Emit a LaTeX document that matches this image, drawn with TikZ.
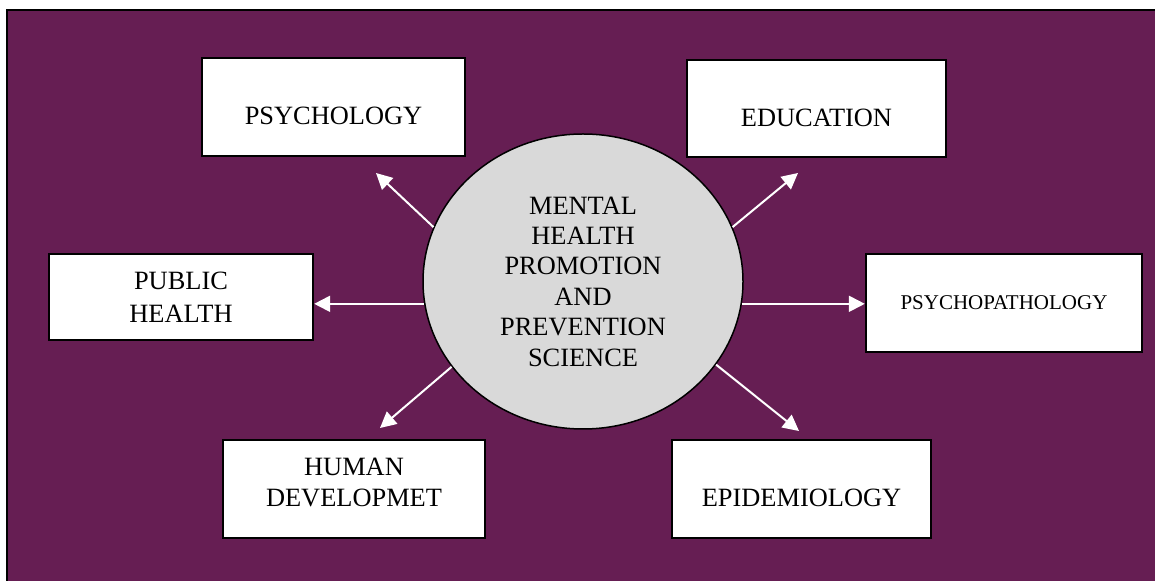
\documentclass[tikz,border=0pt]{standalone}
\usepackage{fontspec}
\setmainfont{Liberation Serif}
\usetikzlibrary{arrows.meta,shapes.geometric}

\definecolor{framepurple}{RGB}{102,30,83}
\definecolor{hubgray}{RGB}{217,217,217}

\begin{document}
\begin{tikzpicture}[x=0.5pt,y=-0.5pt,
    font=\fontsize{13.2}{15.2}\selectfont,
    box/.style={rectangle,draw=black,fill=white,line width=1.2pt,inner sep=0pt,align=center},
    link/.style={white,line width=1pt,-{Triangle[length=8pt,width=8pt]}}]

    \useasboundingbox (0,0) rectangle (1155,581);
    \clip (0,0) rectangle (1155,581);

    % Purple frame, cut off at the right and bottom
    \filldraw[fill=framepurple,draw=black,line width=1pt] (7,10) rectangle (1175,600);

    % Central circle
    \node[ellipse,draw=black,line width=0.75pt,fill=hubgray,minimum width=160pt,minimum height=147.5pt,
          inner sep=0pt,align=center] (hub) at (583,281.5)
          {MENTAL\\HEALTH\\PROMOTION\\AND\\PREVENTION\\SCIENCE};

    % Boxes round the circle
    \node[box,minimum width=131.5pt,minimum height=49pt,label={[yshift=-4.5pt]center:PSYCHOLOGY}] (psych) at (333.5,107) {};
    \node[box,minimum width=129.5pt,minimum height=48.5pt,label={[yshift=-4.5pt]center:EDUCATION}] (educ) at (816.5,108.5) {};
    \node[box,minimum width=132pt,minimum height=43pt,font=\fontsize{13.2}{16.4}\selectfont] (pubhealth) at (181,297) {PUBLIC\\HEALTH};
    \node[box,minimum width=138pt,minimum height=49pt,font=\fontsize{10.5}{12}\selectfont] (psychopath) at (1004,303) {PSYCHOPATHOLOGY};
    \node[box,minimum width=131pt,minimum height=49pt,label={[yshift=3.25pt,align=center]center:HUMAN\\DEVELOPMET}] (humandev) at (354,489) {};
    \node[box,minimum width=129.5pt,minimum height=49pt,label={[yshift=-4.5pt]center:EPIDEMIOLOGY}] (epidem) at (801.5,489) {};

    % Arrow tips that stop short of the boxes
    \coordinate (psych tip) at (376,173);
    \coordinate (educ tip) at (798,173);
    \coordinate (humandev tip) at (380,428);
    \coordinate (epidem tip) at (799,431);

    % Arrows
    \draw[link] (hub.160) -- (psych tip);
    \draw[link] (hub.20) -- (educ tip);
    \draw[link] (hub.188) -- (hub.188 -| pubhealth.east);
    \draw[link] (hub.352) -- (hub.352 -| psychopath.west);
    \draw[link] (hub.213) -- (humandev tip);
    \draw[link] (hub.328) -- (epidem tip);
\end{tikzpicture}
\end{document}
